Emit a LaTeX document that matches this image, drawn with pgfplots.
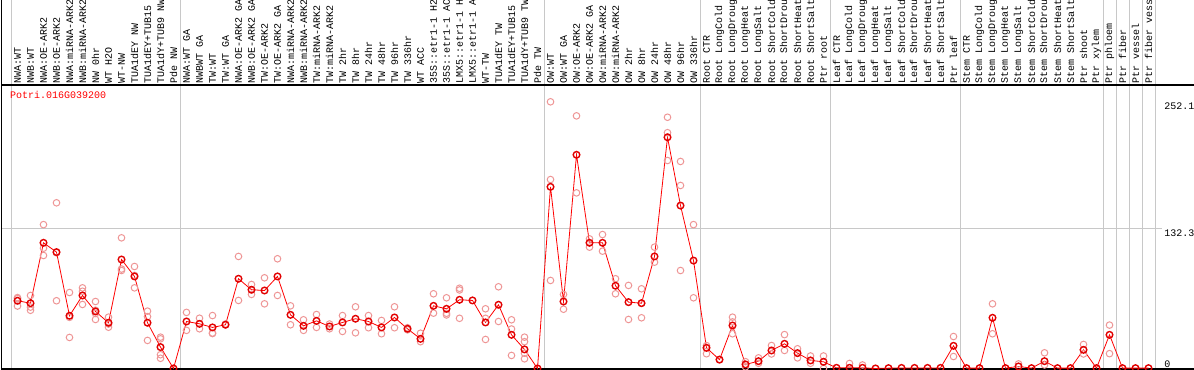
\documentclass[border=0pt]{standalone}
\usepackage{pgfplots}
\pgfplotsset{compat=1.18}
\usepackage{pgfplotstable}
\usepackage{fontspec}
\setmonofont{Liberation Mono}
\definecolor{gridc}{RGB}{200,200,200}
\definecolor{repc}{RGB}{238,150,150}
\definecolor{meanc}{RGB}{225,0,0}

\pgfplotstableread{
x y
0 64
1 61.7
2 118.8
3 110
4 49.8
5 69
6 53.9
7 43.2
8 103
9 87
10 43.2
11 20.2
12 0
13 44.4
14 42.2
15 38.8
16 41.3
17 84.8
18 74.4
19 73.7
20 87
21 50.7
22 40.3
23 45
24 39.7
25 43.5
26 47
27 44.4
28 38.8
29 48.2
30 37.5
31 28
32 59.2
33 56.4
34 64.9
35 64.3
36 43.5
37 60.2
38 31.8
39 18
40 0
41 171.7
42 63.3
43 202
44 118.8
45 118.8
46 78.2
47 62.7
48 61.7
49 105.9
50 218.6
51 154
52 102
53 19.5
54 8.3
55 40.6
56 3.8
57 6.9
58 17
59 23.3
60 14.5
61 7.6
62 6.3
63 0.6
64 0.6
65 0.6
66 0
67 0.3
68 0.5
69 0.5
70 0.5
71 0.5
72 21.4
73 0.3
74 0.3
75 47.9
76 0.3
77 1.9
78 0.3
79 6.9
80 0.3
81 0.3
82 17.6
83 0.3
84 31.8
85 0.3
86 0.3
87 0.3
}\means

\pgfplotstableread{
x y
0 67
0 66
0 59
1 69
1 58
1 55
2 136
2 113.7
2 106.8
3 156.6
3 64
3 109.4
4 71.8
4 29.3
4 48.3
5 76.2
5 73
5 60.5
6 63.3
6 46.3
6 52
6 55
7 48.5
7 39
7 42
8 123.5
8 92.6
8 94
9 96.4
9 76.2
9 88
10 54.2
10 49
10 26.5
11 29.6
11 28
11 13
11 9.6
13 53
13 36
14 47.5
14 37.5
15 50
15 33.5
15 33
16 42
17 105.9
17 64.3
18 79.4
18 70
19 85.7
19 61.1
20 103.7
20 69
21 59.2
21 41.3
22 46
22 36
23 51
23 38.8
24 42
24 37.5
25 50
25 35
26 58.3
26 33.7
27 50
27 38.5
28 45.4
28 32.8
29 58.3
29 38.5
30 38.5
30 36.5
31 33.3
31 25.3
32 70.6
32 52.3
33 66.8
33 52.2
33 50.6
34 75.8
34 74.2
34 47.4
36 56.4
36 27.4
36 47.4
37 77.2
37 44.4
38 46
38 37.3
38 12.3
39 29.6
39 25.3
39 14.4
39 9.1
41 252.1
41 178.6
41 83.2
42 70
42 56
43 238.8
43 166
44 122.5
44 114.7
45 126.6
45 110.9
46 84.8
46 70.6
47 78.5
47 46.3
48 75.3
48 61.9
48 47.9
49 114.7
49 100.5
50 237.5
50 222.9
50 196.6
51 195.7
51 173
51 92.6
52 136
52 66.8
53 21.6
53 13.9
54 8.6
55 48.5
55 32.8
55 44
56 6.4
56 1.5
57 10
57 4.9
58 21.7
58 13.7
59 32
59 17
60 18.6
60 10
61 11.8
61 4.9
62 11.8
62 0
64 4.7
65 3.3
72 30.2
72 11.3
75 61.1
75 32.8
77 4.3
79 14.8
79 3.3
82 22.7
82 13.7
84 41
84 14
}\reps

\begin{document}
\begin{tikzpicture}
\begin{axis}[
  scale only axis, width=1192.5pt, height=284pt,
  xmin=-1.2308, xmax=90.5, ymin=-0.5, ymax=268,
  axis line style={draw=none},
  xtick={0,...,87},
  xticklabels={{NWA:WT},{NWB:WT},{NWA:OE-ARK2},{NWB:OE-ARK2},{NWA:miRNA-ARK2},{NWB:miRNA-ARK2},{NW 0hr},{WT H2O},{WT-NW},{TUA1dEY NW},{TUA1dEY+TUB15 NW},{TUA1dY+TUB9 NW},{Pde NW},
  {NWA:WT GA},{NWBWT GA},{TW:WT},{TW:WT GA},{NWA:OE-ARK2 GA},{NWB:OE-ARK2 GA},{TW:OE-ARK2},{TW:OE-ARK2 GA},{NWA:miRNA-ARK2 GA},{NWB:miRNA-ARK2 GA},{TW:miRNA-ARK2},{TW:miRNA-ARK2 GA},{TW 2hr},{TW 8hr},{TW 24hr},{TW 48hr},{TW 96hr},{TW 336hr},{WT ACC},{35S::etr1-1 H2O},{35S::etr1-1 ACC},{LMX5::etr1-1 H2O},{LMX5::etr1-1 ACC},{WT-TW},{TUA1dEY TW},{TUA1dEY+TUB15 TW},{TUA1dY+TUB9 TW},{Pde TW},
  {OW:WT},{OW:WT GA},{OW:OE-ARK2},{OW:OE-ARK2 GA},{OW:miRNA-ARK2},{OW:miRNA-ARK2 GA},{OW 2hr},{OW 8hr},{OW 24hr},{OW 48hr},{OW 96hr},{OW 336hr},
  {Root CTR},{Root LongCold},{Root LongDrought},{Root LongHeat},{Root LongSalt},{Root ShortCold},{Root ShortDrought},{Root ShortHeat},{Root ShortSalt},{Ptr root},
  {Leaf CTR},{Leaf LongCold},{Leaf LongDrought},{Leaf LongHeat},{Leaf LongSalt},{Leaf ShortCold},{Leaf ShortDrought},{Leaf ShortHeat},{Leaf ShortSalt},{Ptr leaf},
  {Stem CTR},{Stem LongCold},{Stem LongDrought},{Stem LongHeat},{Stem LongSalt},{Stem ShortCold},{Stem ShortDrought},{Stem ShortHeat},{Stem ShortSalt},{Ptr shoot},{Ptr xylem},
  {Ptr phloem},{Ptr fiber},{Ptr vessel},{Ptr fiber vessel}},
  xticklabel pos=upper,
  xticklabel style={rotate=90, anchor=west, font=\ttfamily\fontsize{10}{10}\selectfont, inner sep=1pt, text=black},
  ytick=\empty,
  major tick length=0pt,
  tick style={draw=none},
  clip=false,
]
\coordinate (bbBL) at (axis cs:-1.3462,-1.445);
\coordinate (bbTR) at (axis cs:90.5,348.36);
\pgfplotsinvokeforeach{-0.5,12.5,40.5,52.5,62.5,72.5,83.5,84.5,85.5,86.5,87.5}{
  \draw[gridc, line width=1pt] (axis cs:#1,-0.5) -- (axis cs:#1,348.36);
}
\draw[gridc, line width=1pt] (axis cs:-1.2308,132.3) -- (axis cs:88.04,132.3);
\draw[black, line width=1.2pt] (axis cs:-1.2308,-0.5) -- (axis cs:-1.2308,348.36);
\draw[black, line width=1.2pt] (rel axis cs:0,1) -- (rel axis cs:1,1);
\draw[black, line width=1.2pt] (rel axis cs:0,0) -- (rel axis cs:1,0);
\addplot[only marks, mark=o, mark size=3.3pt, mark options={draw=repc, line width=1pt}] table[x=x,y=y] {\reps};
\addplot[red, line width=0.8pt, mark=o, mark size=3.3pt, mark options={draw=meanc, line width=1.4pt}] table[x=x,y=y] {\means};
\node[anchor=west, text=red, font=\ttfamily\fontsize{10}{10}\selectfont, inner sep=0pt] at (axis cs:-0.577,258.6) {Potri.016G039200};
\node[anchor=north west, font=\ttfamily\fontsize{10}{10}\selectfont, inner sep=1pt] at (axis cs:88.12,252.1) {252.1};
\node[anchor=north west, font=\ttfamily\fontsize{10}{10}\selectfont, inner sep=1pt] at (axis cs:88.12,132.3) {132.3};
\node[anchor=south west, font=\ttfamily\fontsize{10}{10}\selectfont, inner sep=1pt] at (axis cs:88.12,0) {0};
\end{axis}
\pgfresetboundingbox
\path[use as bounding box] (bbBL) rectangle (bbTR);
\end{tikzpicture}
\end{document}
